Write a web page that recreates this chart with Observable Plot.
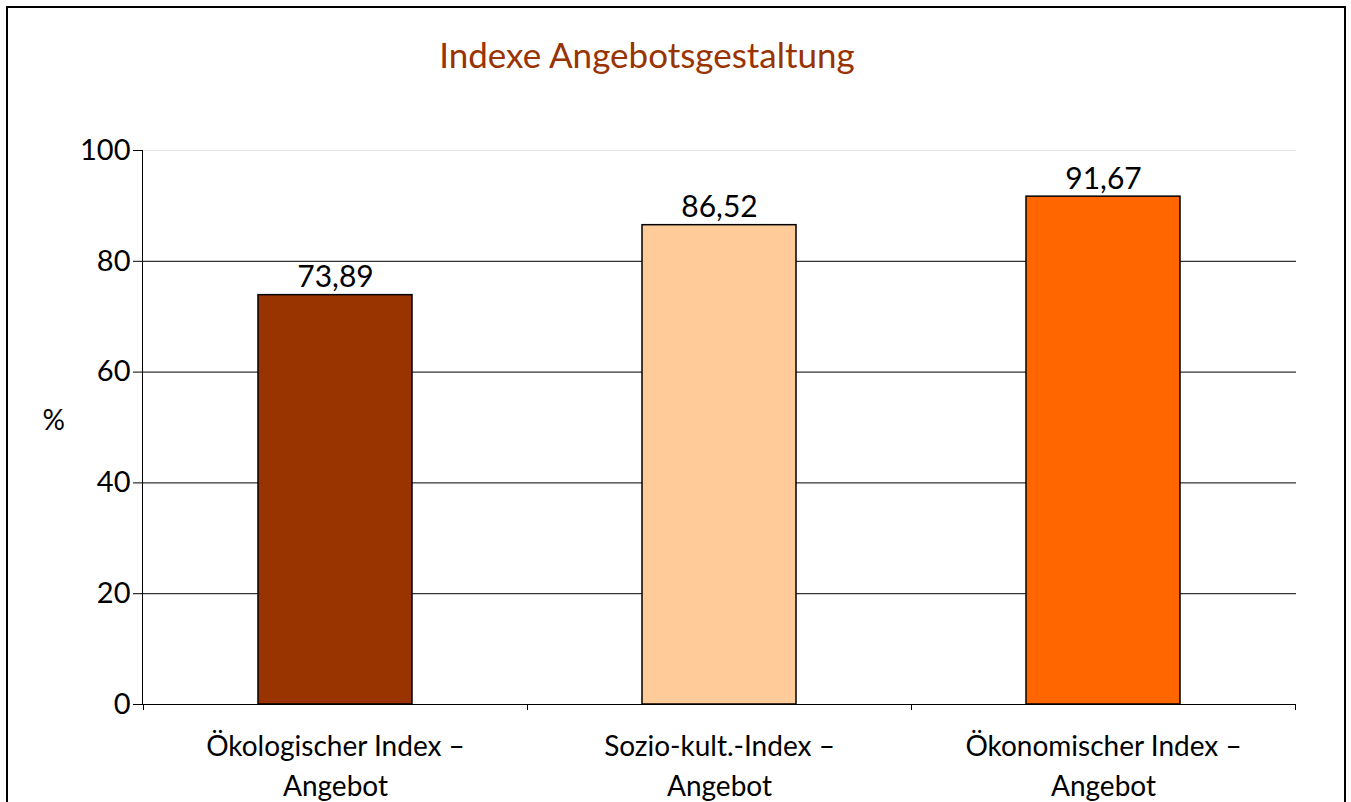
<!DOCTYPE html>
<html>
<head>
<meta charset="utf-8">
<script src="https://cdn.jsdelivr.net/npm/d3@7"></script>
<script src="https://cdn.jsdelivr.net/npm/@observablehq/plot@0.6"></script>
<style>
  html, body { margin: 0; padding: 0; background: #fff; overflow: hidden; }
  body { width: 1351px; height: 802px; position: relative; font-family: Lato, "Noto Sans", sans-serif; }
  #frame { position: absolute; left: 6px; top: 6px; width: 1336px; height: 900px; border: 2px solid #000; box-sizing: content-box; }
  #title { position: absolute; left: 0; top: 33px; width: 1294px; text-align: center; font-size: 35px; color: #993300; font-family: Lato, sans-serif; font-weight: 400; }
  #chart { position: absolute; left: 0; top: 0; }
</style>
</head>
<body>
<div id="frame"></div>
<div id="title">Indexe Angebotsgestaltung</div>
<div id="chart"></div>
<script>
const categories = ["Ökologischer Index –\nAngebot", "Sozio-kult.-Index –\nAngebot", "Ökonomischer Index –\nAngebot"];
const values = [73.89, 86.52, 91.67];
const colors = ["#993300", "#FFCC99", "#FF6600"];
const yTicks = [0, 20, 40, 60, 80, 100];
const gridDark = [20, 40, 60, 80];
const gridLight = [100];
const yLabel = "%";

const data = categories.map((c, i) => ({category: c, value: values[i], color: colors[i]}));
const fmt = v => v.toFixed(2).replace(".", ",");

// ticks at band boundaries, computed from the band scale
function bandBoundaryTicks(len) {
  return (index, scales, values, dimensions) => {
    const x = scales.x;
    const bw = x.bandwidth ? x.bandwidth() : 0;
    const step = x.step ? x.step() : (x(categories[1]) - x(categories[0]));
    const start = x(categories[0]) - (step - bw) / 2;
    const y0 = dimensions.height - dimensions.marginBottom;
    const g = d3.create("svg:g").attr("stroke", "#000").attr("stroke-width", 1);
    for (let i = 0; i <= categories.length; i++) {
      const xx = Math.round(start + i * step) + 0.5;
      g.append("line").attr("x1", xx).attr("x2", xx).attr("y1", y0).attr("y2", y0 + len);
    }
    return g.node();
  };
}

const chart = Plot.plot({
  width: 1351,
  height: 802,
  marginLeft: 142,
  marginRight: 55,
  marginTop: 150,
  marginBottom: 98,
  style: {fontFamily: "Lato, sans-serif", background: "transparent", color: "#000"},
  x: {domain: categories, padding: 0.6, paddingOuter: 0.3, label: null},
  y: {domain: [0, 100], label: null},
  marks: [
    Plot.ruleY(gridLight, {stroke: "#e6e6e6", strokeWidth: 1}),
    Plot.ruleY(gridDark, {stroke: "#000", strokeWidth: 1}),
    Plot.barY(data, {x: "category", y: "value", fill: "color", stroke: "#000", strokeWidth: 1.5}),
    Plot.ruleY([0], {stroke: "#000", strokeWidth: 1.2}),
    Plot.frame({anchor: "left", stroke: "#000", strokeWidth: 1}),
    Plot.axisY({ticks: yTicks, tickSize: 9, tickPadding: 3, fontSize: 29, fontWeight: 400, label: null, tickFormat: d => String(d)}),
    Plot.axisX({tickSize: 0, tickPadding: 24, fontSize: 28, fontWeight: 400, lineHeight: 1.4, label: null, style: {letterSpacing: "0.5px"}}),
    bandBoundaryTicks(6),
    Plot.text(data, {x: "category", y: "value", text: d => fmt(d.value), lineAnchor: "bottom", dy: -8, fontSize: 30, fontWeight: 400, fill: "#000"}),
    Plot.text([yLabel], {frameAnchor: "left", text: d => d, dx: -100, dy: -6, fontSize: 28, fontWeight: 400, fill: "#000"})
  ]
});
document.getElementById("chart").appendChild(chart);
</script>
</body>
</html>
